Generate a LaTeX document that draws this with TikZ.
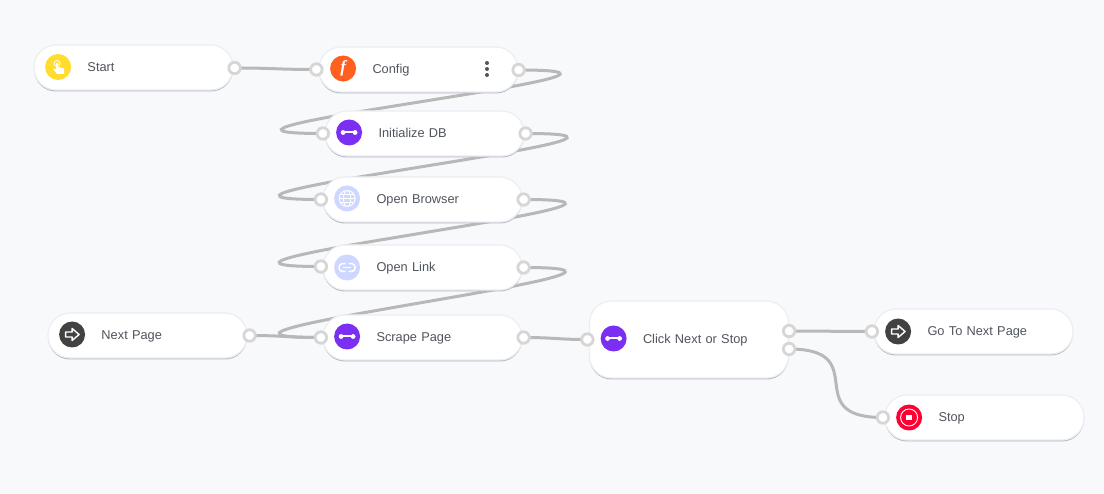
\documentclass[tikz,border=0pt]{standalone}
\usepackage{fontspec}
\setmainfont{Liberation Sans}
\newfontfamily\curlyfont{Liberation Serif}
\usepackage{xcolor}
\usetikzlibrary{positioning, backgrounds}
\definecolor{canvasbg}{HTML}{F8F9FB}
\definecolor{wire}{HTML}{B8B8B8}
\definecolor{portring}{HTML}{D6D6D6}
\definecolor{labelgray}{HTML}{50545C}
\definecolor{pillrim}{HTML}{EBEEF4}
\definecolor{pillshade}{HTML}{B4B8C0}
\definecolor{iconyellow}{HTML}{FFDC2E}
\definecolor{iconorange}{HTML}{FF5F1F}
\definecolor{iconpurple}{HTML}{7B2FF2}
\definecolor{iconpale}{HTML}{CDD7FF}
\definecolor{icondark}{HTML}{424242}
\definecolor{iconred}{HTML}{FF0033}

\begin{document}
\begin{tikzpicture}[
  x=1pt, y=-1pt,
  block/.style={draw=pillrim, line width=1.2pt, rounded corners=22pt, fill=white,
    preaction={fill=pillshade, transform canvas={yshift=-1.5pt}},
    minimum height=45pt, text width=199pt, inner xsep=0pt, align=left, text=labelgray,
    font=\fontsize{12.8}{15}\selectfont, text height=10pt, text depth=2pt,
    execute at begin node={\hspace*{53.5pt}}},
  icon/.style={circle, minimum size=26pt, inner sep=0pt, fill=#1, text=white},
  port/.style={circle, draw=portring, line width=2.8pt, fill=white, minimum size=11.5pt, inner sep=0pt},
  wireline/.style={draw=wire, line width=3pt},
  glyph/.style={draw=white, line width=1.4pt},
  pics/dotline/.style={code={
    \draw[white, line width=2pt] (-6,0) -- (6,0);
    \fill[white] (-6,0) circle (2.4) (6,0) circle (2.4);}},
  pics/arrowout/.style={code={
    \draw[glyph, line join=round] (-6.5,-2.5) -- (0,-2.5) -- (0,-6) -- (7,0) -- (0,6) -- (0,2.5) -- (-6.5,2.5) -- cycle;}},
  pics/touch/.style={code={
    \draw[white, line width=.8pt] (-1,-3.5) circle (3);
    \fill[white] (-2,-4) -- (0,-4) -- (0,0) -- (6,1.5) -- (6,7) -- (-1,7) -- (-5,2) -- (-2,2) -- cycle;}},
  pics/globe/.style={code={
    \draw[white, line width=.9pt] (0,0) circle (8) (0,0) ellipse (3.6 and 8)
      (-8,0) -- (8,0) (-7,-4) -- (7,-4) (-7,4) -- (7,4);}},
  pics/chain/.style={code={
    \draw[white, line width=1.5pt, rounded corners=3.2pt] (-1.5,-3.8) -- (-8,-3.8) -- (-8,3.8) -- (-1.5,3.8);
    \draw[white, line width=1.5pt, rounded corners=3.2pt] (1.5,-3.8) -- (8,-3.8) -- (8,3.8) -- (1.5,3.8);
    \draw[white, line width=1.5pt] (-4,0) -- (4,0);}},
  pics/halt/.style={code={
    \draw[white, line width=.9pt] (0,0) circle (8.5);
    \fill[white] (-2.7,-2.7) rectangle (2.7,2.7);}},
  pics/menudots/.style={code={
    \fill[labelgray] (0,-6) circle (2) (0,0) circle (2) (0,6) circle (2);}}
]
\useasboundingbox (0,0) rectangle (1104,494);

\node[block] (start) at (133.5,67.5) {Start};
\node[block] (config) at (418.5,69.5) {Config};
\node[block] (initdb) at (424.5,133.5) {Initialize DB};
\node[block] (browser) at (422.5,199.5) {Open Browser};
\node[block] (openlink) at (422.5,267.5) {Open Link};
\node[block] (nextpage) at (147.5,335.5) {Next Page};
\node[block] (scrape) at (422.5,337.5) {Scrape Page};
\node[block, minimum height=77pt] (click) at (689,339.5) {Click Next or Stop};
\node[block] (gotonext) at (973.5,331.5) {Go To Next Page};
\node[block] (stop) at (984.5,417.5) {Stop};

\node[icon=iconyellow, right=11.5pt of start.west, yshift=0.5pt] (starticon) {};
\node[icon=iconorange, right=11.5pt of config.west, yshift=1pt, font=\curlyfont\bfseries\itshape\fontsize{17}{17}\selectfont] (configicon) {f};
\node[icon=iconpurple, right=11.5pt of initdb.west, yshift=1pt] (initdbicon) {};
\node[icon=iconpale, right=11.5pt of browser.west, yshift=1pt] (browsericon) {};
\node[icon=iconpale, right=11.5pt of openlink.west] (openlinkicon) {};
\node[icon=icondark, right=11.5pt of nextpage.west, yshift=1pt] (nextpageicon) {};
\node[icon=iconpurple, right=11.5pt of scrape.west, yshift=1pt] (scrapeicon) {};
\node[icon=iconpurple, right=11.5pt of click.west, yshift=1pt] (clickicon) {};
\node[icon=icondark, right=11.5pt of gotonext.west] (gotonexticon) {};
\node[icon=iconred, right=11.5pt of stop.west] (stopicon) {};

\pic at (starticon) {touch};
\pic at (initdbicon) {dotline};
\pic at (browsericon) {globe};
\pic at (openlinkicon) {chain};
\pic at (nextpageicon) {arrowout};
\pic at (scrapeicon) {dotline};
\pic at (clickicon) {dotline};
\pic at (gotonexticon) {arrowout};
\pic at (stopicon) {halt};
\pic at (487,69) {menudots};

\node[port] (startout) at ([xshift=1pt, yshift=-0.5pt]start.east) {};
\node[port] (configin) at ([xshift=-2pt]config.west) {};
\node[port] (configout) at ([yshift=-0.5pt]config.east) {};
\node[port] (initdbin) at ([xshift=-1.5pt]initdb.west) {};
\node[port] (initdbout) at ([xshift=1pt]initdb.east) {};
\node[port] (browserin) at ([xshift=-1.5pt]browser.west) {};
\node[port] (browserout) at ([xshift=1pt]browser.east) {};
\node[port] (openlinkin) at ([xshift=-1.5pt, yshift=1pt]openlink.west) {};
\node[port] (openlinkout) at ([xshift=1pt]openlink.east) {};
\node[port] (nextpageout) at ([xshift=2pt]nextpage.east) {};
\node[port] (scrapein) at ([xshift=-1.5pt]scrape.west) {};
\node[port] (scrapeout) at ([xshift=1pt]scrape.east) {};
\node[port] (clickin) at ([xshift=-1.5pt]click.west) {};
\node[port] (clicknext) at ([yshift=8.5pt]click.east) {};
\node[port] (clickstop) at ([yshift=-9.5pt]click.east) {};
\node[port] (gotonextin) at ([xshift=-1.5pt]gotonext.west) {};
\node[port] (stopin) at ([xshift=-1.5pt]stop.west) {};

\begin{scope}[on background layer]
\fill[canvasbg] (0,0) rectangle (1104,494);
\draw[wireline] (startout.center) .. controls +(40,0) and +(-40,0) .. (configin.center);
\draw[wireline] (configout.center) .. controls +(200,0) and +(-200,0) .. (initdbin.center);
\draw[wireline] (initdbout.center) .. controls +(202,0) and +(-202,0) .. (browserin.center);
\draw[wireline] (browserout.center) .. controls +(202,0) and +(-202,0) .. (openlinkin.center);
\draw[wireline] (openlinkout.center) .. controls +(202,0) and +(-202,0) .. (scrapein.center);
\draw[wireline] (nextpageout.center) .. controls +(35,0) and +(-35,0) .. (scrapein.center);
\draw[wireline] (scrapeout.center) .. controls +(30,0) and +(-30,0) .. (clickin.center);
\draw[wireline] (clicknext.center) -- (gotonextin.center);
\draw[wireline] (clickstop.center) .. controls +(85,0) and +(-85,0) .. (stopin.center);
\end{scope}
\end{tikzpicture}
\end{document}
